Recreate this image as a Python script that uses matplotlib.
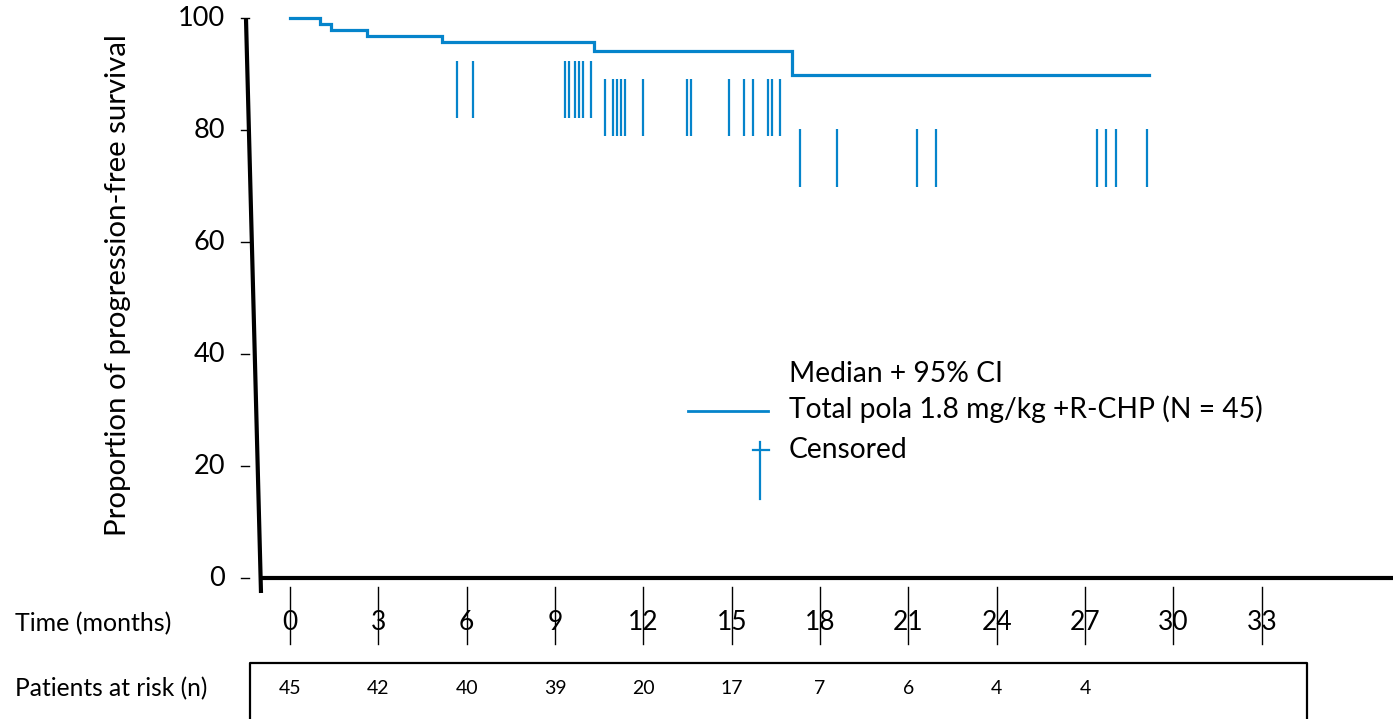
import matplotlib
matplotlib.use("Agg")
import matplotlib.pyplot as plt

# ---------------- data ----------------
step_times = [0, 1.03, 1.40, 2.61, 5.17, 10.32, 17.04]
step_surv = [100, 98.93, 97.86, 96.79, 95.66, 94.16, 89.82]
last_followup = 29.17

censor_times_a = [5.68, 6.21, 9.34, 9.47, 9.67, 9.80, 9.94, 10.21]
censor_span_a = (82.14, 92.32)
censor_times_b = [10.71, 10.97, 11.10, 11.25, 11.39, 11.98, 13.48, 13.61,
                  14.91, 15.42, 15.71, 16.24, 16.38, 16.63]
censor_span_b = (78.93, 89.05)
censor_times_c = [17.33, 18.58, 21.30, 21.94, 27.41, 27.72, 28.05, 29.10]
censor_span_c = (69.88, 80.13)

x_ticks = [0, 3, 6, 9, 12, 15, 18, 21, 24, 27, 30, 33]
y_ticks = [0, 20, 40, 60, 80, 100]
risk_times = [0, 3, 6, 9, 12, 15, 18, 21, 24, 27]
risk_counts = [45, 42, 40, 39, 20, 17, 7, 6, 4, 4]

legend_title = "Median + 95% CI"
series_label = "Total pola 1.8 mg/kg +R-CHP (N = 45)"
censor_label = "Censored"
y_label = "Proportion of progression-free survival"
x_label = "Time (months)"
risk_label = "Patients at risk (n)"

# ---------------- layout ----------------
W, H = 1393, 719
BLUE = "#0584CB"
FONT = ["Lato", "DejaVu Sans"]
plt.rcParams["font.family"] = FONT

fig = plt.figure(figsize=(W / 100, H / 100), dpi=100)
ax = fig.add_axes([0, 0, 1, 1])
ax.axis("off")

# pixel <-> data mapping (x0 at 290px, 29.45 px/month ; y0 at 578px, 5.6 px/unit)
X0, SX, Y0, SY = 290.0, 29.45, 578.0, 5.6
ax.set_xlim((0 - X0) / SX, (W - X0) / SX)
ax.set_ylim((Y0 - H) / SY, (Y0 - 0) / SY)


def dx(px):
    return (px - X0) / SX


def dy(py):
    return (Y0 - py) / SY


# KM curve
ax.step(step_times + [last_followup], step_surv + [step_surv[-1]], where="post",
        color=BLUE, lw=2.3, solid_joinstyle="miter", clip_on=False, zorder=3)

# censor marks
for times, (lo, hi) in [(censor_times_a, censor_span_a),
                        (censor_times_b, censor_span_b),
                        (censor_times_c, censor_span_c)]:
    ax.vlines(times, lo, hi, color=BLUE, lw=1.6, clip_on=False, zorder=3)

# slanted y axis
ax.plot([dx(246), dx(261)], [dy(19), dy(593)], color="black", lw=3.0,
        solid_capstyle="butt", clip_on=False)
# y ticks and labels
for v in y_ticks:
    ax.plot([dx(241), dx(249)], [v, v], color="black", lw=1.0, clip_on=False)
    ax.text(dx(225), v, str(v), ha="right", va="center", fontsize=19.5)

# x axis
ax.plot([dx(261), dx(W + 5)], [0, 0], color="black", lw=3.0,
        solid_capstyle="butt", clip_on=False)
for t in x_ticks:
    ax.plot([t, t], [dy(587), dy(644)], color="black", lw=1.0, clip_on=False, zorder=4)
    ax.text(t, dy(622), str(t), ha="center", va="center", fontsize=19)

# at-risk box
ax.plot([dx(250), dx(250), dx(1307), dx(1307)], [dy(H + 5), dy(663), dy(663), dy(H + 5)],
        color="black", lw=1.6, clip_on=False)
for t, n in zip(risk_times, risk_counts):
    ax.text(t, dy(689), str(n), ha="center", va="center", fontsize=14)

renderer = fig.canvas.get_renderer()


def fit(txt, target, vertical=False):
    bb = txt.get_window_extent(renderer=renderer)
    size = bb.height if vertical else bb.width
    txt.set_fontsize(txt.get_fontsize() * target / size)
    return txt


# left labels
fit(ax.text(dx(15), dy(624), x_label, ha="left", va="center", fontsize=17), 157)
fit(ax.text(dx(15), dy(689), risk_label, ha="left", va="center", fontsize=17), 193)
fit(ax.text(dx(118), dy(285), y_label, ha="center", va="center", rotation=90,
            fontsize=18), 500, vertical=True)

# legend
t2 = fit(ax.text(dx(789), dy(418), series_label, ha="left", va="baseline", fontsize=19), 473)
fs = t2.get_fontsize()
ax.text(dx(789), dy(382), legend_title, ha="left", va="baseline", fontsize=fs)
ax.text(dx(789), dy(458), censor_label, ha="left", va="baseline", fontsize=fs)
ax.plot([dx(688), dx(768)], [dy(411), dy(411)], color=BLUE, lw=2.0, clip_on=False)
ax.plot([dx(760.5), dx(760.5)], [dy(442), dy(499)], color=BLUE, lw=1.6, clip_on=False)
ax.plot([dx(753), dx(769)], [dy(450), dy(450)], color=BLUE, lw=1.6, clip_on=False)

fig.savefig("out.png", dpi=100)
